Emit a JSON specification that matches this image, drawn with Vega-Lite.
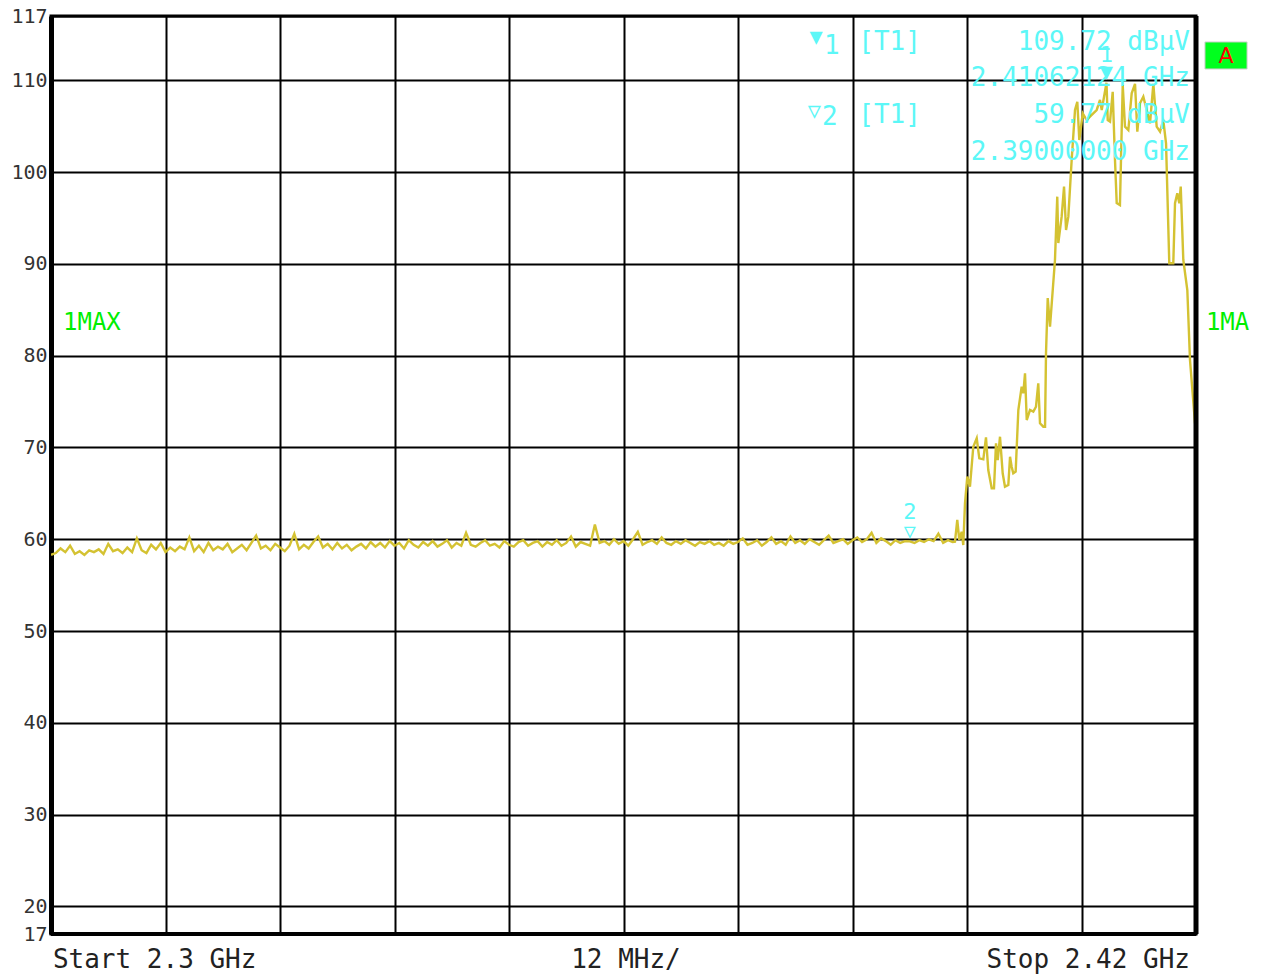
{
  "$schema": "https://vega.github.io/schema/vega-lite/v6.json",
  "width": 1145,
  "height": 918,
  "autosize": "none",
  "padding": {"left": 51, "top": 16, "right": 66, "bottom": 42},
  "background": "white",
  "data": {"values": [{}]},
  "config": {
    "view": {"stroke": "black", "strokeWidth": 3},
    "text": {"font": "DejaVu Sans Mono"}
  },
  "datasets": {
    "trace": [
      {"f":2300.0,"v":58.3},{"f":2300.5,"v":58.5},{"f":2301.0,"v":59.0},{"f":2301.5,"v":58.6},{"f":2302.0,"v":59.3},{"f":2302.5,"v":58.4},{"f":2303.0,"v":58.7},{"f":2303.5,"v":58.3},{"f":2304.0,"v":58.8},{"f":2304.5,"v":58.6},
      {"f":2305.0,"v":58.9},{"f":2305.5,"v":58.4},{"f":2306.0,"v":59.5},{"f":2306.5,"v":58.7},{"f":2307.0,"v":58.9},{"f":2307.5,"v":58.5},{"f":2308.0,"v":59.1},{"f":2308.5,"v":58.6},{"f":2309.0,"v":60.1},{"f":2309.5,"v":58.8},
      {"f":2310.0,"v":58.5},{"f":2310.5,"v":59.4},{"f":2311.0,"v":58.9},{"f":2311.5,"v":59.6},{"f":2312.0,"v":58.6},{"f":2312.5,"v":59.1},{"f":2313.0,"v":58.7},{"f":2313.5,"v":59.2},{"f":2314.0,"v":58.9},{"f":2314.5,"v":60.2},
      {"f":2315.0,"v":58.7},{"f":2315.5,"v":59.3},{"f":2316.0,"v":58.6},{"f":2316.5,"v":59.6},{"f":2317.0,"v":58.8},{"f":2317.5,"v":59.2},{"f":2318.0,"v":58.9},{"f":2318.5,"v":59.5},{"f":2319.0,"v":58.6},{"f":2319.5,"v":59.0},
      {"f":2320.0,"v":59.4},{"f":2320.5,"v":58.8},{"f":2321.0,"v":59.6},{"f":2321.5,"v":60.4},{"f":2322.0,"v":59.0},{"f":2322.5,"v":59.3},{"f":2323.0,"v":58.8},{"f":2323.5,"v":59.5},{"f":2324.0,"v":59.1},{"f":2324.5,"v":58.7},
      {"f":2325.0,"v":59.3},{"f":2325.5,"v":60.6},{"f":2326.0,"v":58.9},{"f":2326.5,"v":59.4},{"f":2327.0,"v":59.0},{"f":2327.5,"v":59.7},{"f":2328.0,"v":60.3},{"f":2328.5,"v":59.1},{"f":2329.0,"v":59.5},{"f":2329.5,"v":58.9},
      {"f":2330.0,"v":59.6},{"f":2330.5,"v":59.0},{"f":2331.0,"v":59.4},{"f":2331.5,"v":58.8},{"f":2332.0,"v":59.2},{"f":2332.5,"v":59.5},{"f":2333.0,"v":59.0},{"f":2333.5,"v":59.7},{"f":2334.0,"v":59.2},{"f":2334.5,"v":59.6},
      {"f":2335.0,"v":59.1},{"f":2335.5,"v":59.8},{"f":2336.0,"v":59.3},{"f":2336.5,"v":59.6},{"f":2337.0,"v":59.0},{"f":2337.5,"v":59.9},{"f":2338.0,"v":59.4},{"f":2338.5,"v":59.1},{"f":2339.0,"v":59.7},{"f":2339.5,"v":59.3},
      {"f":2340.0,"v":59.8},{"f":2340.5,"v":59.2},{"f":2341.0,"v":59.5},{"f":2341.5,"v":59.9},{"f":2342.0,"v":59.1},{"f":2342.5,"v":59.6},{"f":2343.0,"v":59.3},{"f":2343.5,"v":60.7},{"f":2344.0,"v":59.4},{"f":2344.5,"v":59.2},
      {"f":2345.0,"v":59.6},{"f":2345.5,"v":59.9},{"f":2346.0,"v":59.3},{"f":2346.5,"v":59.5},{"f":2347.0,"v":59.1},{"f":2347.5,"v":59.8},{"f":2348.0,"v":59.4},{"f":2348.5,"v":59.2},{"f":2349.0,"v":59.7},{"f":2349.5,"v":59.9},
      {"f":2350.0,"v":59.3},{"f":2350.5,"v":59.6},{"f":2351.0,"v":59.8},{"f":2351.5,"v":59.2},{"f":2352.0,"v":59.7},{"f":2352.5,"v":59.4},{"f":2353.0,"v":59.9},{"f":2353.5,"v":59.3},{"f":2354.0,"v":59.6},{"f":2354.5,"v":60.3},
      {"f":2355.0,"v":59.2},{"f":2355.5,"v":59.7},{"f":2356.0,"v":59.5},{"f":2356.5,"v":59.3},{"f":2357.0,"v":61.6},{"f":2357.5,"v":59.6},{"f":2358.0,"v":59.8},{"f":2358.5,"v":59.4},{"f":2359.0,"v":60.0},{"f":2359.5,"v":59.5},
      {"f":2360.0,"v":59.8},{"f":2360.5,"v":59.3},{"f":2361.0,"v":60.0},{"f":2361.5,"v":60.8},{"f":2362.0,"v":59.4},{"f":2362.5,"v":59.7},{"f":2363.0,"v":59.9},{"f":2363.5,"v":59.5},{"f":2364.0,"v":60.2},{"f":2364.5,"v":59.6},
      {"f":2365.0,"v":59.4},{"f":2365.5,"v":59.8},{"f":2366.0,"v":59.5},{"f":2366.5,"v":59.9},{"f":2367.0,"v":59.6},{"f":2367.5,"v":59.3},{"f":2368.0,"v":59.7},{"f":2368.5,"v":59.5},{"f":2369.0,"v":59.8},{"f":2369.5,"v":59.4},
      {"f":2370.0,"v":59.6},{"f":2370.5,"v":59.3},{"f":2371.0,"v":59.8},{"f":2371.5,"v":59.5},{"f":2372.0,"v":59.7},{"f":2372.5,"v":60.1},{"f":2373.0,"v":59.4},{"f":2373.5,"v":59.6},{"f":2374.0,"v":59.9},{"f":2374.5,"v":59.3},
      {"f":2375.0,"v":59.7},{"f":2375.5,"v":60.2},{"f":2376.0,"v":59.5},{"f":2376.5,"v":59.8},{"f":2377.0,"v":59.4},{"f":2377.5,"v":60.3},{"f":2378.0,"v":59.6},{"f":2378.5,"v":59.9},{"f":2379.0,"v":59.5},{"f":2379.5,"v":60.0},
      {"f":2380.0,"v":59.7},{"f":2380.5,"v":59.4},{"f":2381.0,"v":59.9},{"f":2381.5,"v":60.4},{"f":2382.0,"v":59.6},{"f":2382.5,"v":59.8},{"f":2383.0,"v":60.0},{"f":2383.5,"v":59.5},{"f":2384.0,"v":59.9},{"f":2384.5,"v":60.2},
      {"f":2385.0,"v":59.7},{"f":2385.5,"v":60.0},{"f":2386.0,"v":60.7},{"f":2386.5,"v":59.6},{"f":2387.0,"v":60.1},{"f":2387.5,"v":59.8},{"f":2388.0,"v":59.4},{"f":2388.5,"v":59.9},{"f":2389.0,"v":59.6},{"f":2389.5,"v":59.8},
      {"f":2390.0,"v":59.77},{"f":2390.5,"v":59.6},{"f":2391.0,"v":59.9},{"f":2391.5,"v":59.7},{"f":2392.0,"v":60.0},{"f":2392.5,"v":59.8},{"f":2393.0,"v":60.6},{"f":2393.5,"v":59.6},{"f":2394.0,"v":59.9},{"f":2394.5,"v":59.7},
      {"f":2394.74,"v":59.73},{"f":2394.98,"v":62.1},{"f":2395.19,"v":59.92},{"f":2395.44,"v":60.82},{"f":2395.61,"v":59.37},{"f":2395.79,"v":63.92},{"f":2396.03,"v":66.82},{"f":2396.31,"v":65.73},{"f":2396.66,"v":70.08},{"f":2397.02,"v":71.0},
      {"f":2397.29,"v":68.82},{"f":2397.71,"v":68.71},{"f":2397.99,"v":71.11},{"f":2398.23,"v":67.54},{"f":2398.59,"v":65.55},{"f":2398.83,"v":65.55},{"f":2399.04,"v":70.45},{"f":2399.22,"v":68.63},{"f":2399.46,"v":71.17},{"f":2399.74,"v":67.19},
      {"f":2399.98,"v":65.73},{"f":2400.33,"v":65.91},{"f":2400.51,"v":68.99},{"f":2400.68,"v":67.9},{"f":2400.85,"v":67.19},{"f":2401.10,"v":67.36},{"f":2401.38,"v":74.08},{"f":2401.73,"v":76.62},{"f":2401.90,"v":75.9},{"f":2402.08,"v":78.08},
      {"f":2402.26,"v":72.99},{"f":2402.60,"v":74.08},{"f":2402.95,"v":73.9},{"f":2403.23,"v":74.44},{"f":2403.47,"v":76.99},{"f":2403.65,"v":72.63},{"f":2404.00,"v":72.26},{"f":2404.18,"v":72.26},{"f":2404.28,"v":80.29},{"f":2404.46,"v":86.28},
      {"f":2404.70,"v":83.15},{"f":2405.22,"v":90.42},{"f":2405.46,"v":97.32},{"f":2405.57,"v":92.27},{"f":2405.92,"v":95.14},{"f":2406.17,"v":98.41},{"f":2406.38,"v":93.69},{"f":2406.62,"v":95.14},{"f":2406.97,"v":101.31},{"f":2407.32,"v":106.76},
      {"f":2407.56,"v":107.66},{"f":2407.77,"v":103.49},{"f":2408.13,"v":106.4},{"f":2408.54,"v":105.67},{"f":2409.07,"v":106.22},{"f":2409.59,"v":106.76},{"f":2409.94,"v":107.85},{"f":2410.12,"v":106.76},{"f":2410.62,"v":109.72},{"f":2410.75,"v":105.67},
      {"f":2410.99,"v":105.49},{"f":2411.27,"v":108.75},{"f":2411.51,"v":101.31},{"f":2411.69,"v":96.63},{"f":2412.03,"v":96.41},{"f":2412.32,"v":109.48},{"f":2412.56,"v":104.94},{"f":2412.91,"v":104.58},{"f":2413.26,"v":108.58},{"f":2413.61,"v":109.6},
      {"f":2413.85,"v":104.4},{"f":2414.13,"v":107.49},{"f":2414.48,"v":108.21},{"f":2414.83,"v":106.76},{"f":2415.18,"v":105.31},{"f":2415.53,"v":109.6},{"f":2415.88,"v":104.94},{"f":2416.23,"v":104.4},{"f":2416.57,"v":105.67},{"f":2416.86,"v":103.13},
      {"f":2417.20,"v":90.06},{"f":2417.62,"v":90.06},{"f":2417.80,"v":96.6},{"f":2418.04,"v":97.69},{"f":2418.25,"v":96.6},{"f":2418.40,"v":98.41},{"f":2418.67,"v":90.42},{"f":2419.09,"v":87.15},{"f":2419.37,"v":79.53},{"f":2419.90,"v":72.63}
    ]
  },
  "layer": [
    {
      "data": {"name": "trace"},
      "mark": {"type": "line", "color": "#d4c232", "strokeWidth": 2.4, "clip": true},
      "encoding": {
        "x": {
          "field": "f", "type": "quantitative",
          "scale": {"domain": [2300, 2420], "nice": false, "zero": false},
          "axis": {
            "values": [2300, 2312, 2324, 2336, 2348, 2360, 2372, 2384, 2396, 2408, 2420],
            "labels": false, "ticks": false, "domain": false, "title": null,
            "grid": true, "gridColor": "black", "gridWidth": 2, "gridOpacity": 1
          }
        },
        "y": {
          "field": "v", "type": "quantitative",
          "scale": {"domain": [17, 117], "nice": false, "zero": false},
          "axis": {
            "values": [17, 20, 30, 40, 50, 60, 70, 80, 90, 100, 110, 117],
            "title": null, "ticks": false,
            "domain": true, "domainColor": "black", "domainWidth": 5,
            "grid": true, "gridColor": "black", "gridWidth": 2, "gridOpacity": 1,
            "labelFont": "DejaVu Sans Mono", "labelFontSize": 20, "labelColor": "#333333",
            "labelPadding": 4
          }
        }
      }
    },
    {
      "mark": {"type": "rule", "color": "black", "strokeWidth": 5},
      "encoding": {"x": {"datum": 2420, "type": "quantitative"}}
    },
    {
      "mark": {"type": "rule", "color": "black", "strokeWidth": 4},
      "encoding": {"y": {"datum": 17, "type": "quantitative"}}
    },
    {
      "mark": {"type": "text", "color": "#5cf7f7", "fontSize": 22, "align": "center", "baseline": "middle"},
      "encoding": {"x": {"datum": 2380.2, "type": "quantitative"}, "y": {"datum": 114.7, "type": "quantitative"}, "text": {"value": "▼"}}
    },
    {
      "mark": {"type": "text", "color": "#5cf7f7", "fontSize": 26, "align": "left", "baseline": "middle"},
      "encoding": {"x": {"datum": 2381.0, "type": "quantitative"}, "y": {"datum": 113.7, "type": "quantitative"}, "text": {"value": "1"}}
    },
    {
      "mark": {"type": "text", "color": "#5cf7f7", "fontSize": 22, "align": "center", "baseline": "middle"},
      "encoding": {"x": {"datum": 2380.0, "type": "quantitative"}, "y": {"datum": 106.7, "type": "quantitative"}, "text": {"value": "▽"}}
    },
    {
      "mark": {"type": "text", "color": "#5cf7f7", "fontSize": 26, "align": "left", "baseline": "middle"},
      "encoding": {"x": {"datum": 2380.8, "type": "quantitative"}, "y": {"datum": 106.0, "type": "quantitative"}, "text": {"value": "2"}}
    },
    {
      "mark": {"type": "text", "color": "#5cf7f7", "fontSize": 26, "align": "left", "baseline": "middle"},
      "encoding": {"x": {"datum": 2384.6, "type": "quantitative"}, "y": {"datum": 114.17, "type": "quantitative"}, "text": {"value": "[T1]"}}
    },
    {
      "mark": {"type": "text", "color": "#5cf7f7", "fontSize": 26, "align": "left", "baseline": "middle"},
      "encoding": {"x": {"datum": 2384.6, "type": "quantitative"}, "y": {"datum": 106.22, "type": "quantitative"}, "text": {"value": "[T1]"}}
    },
    {
      "mark": {"type": "text", "color": "#5cf7f7", "fontSize": 26, "align": "right", "baseline": "middle"},
      "encoding": {"x": {"datum": 2419.37, "type": "quantitative"}, "y": {"datum": 114.17, "type": "quantitative"}, "text": {"value": "109.72 dBµV"}}
    },
    {
      "mark": {"type": "text", "color": "#5cf7f7", "fontSize": 26, "align": "right", "baseline": "middle"},
      "encoding": {"x": {"datum": 2419.37, "type": "quantitative"}, "y": {"datum": 110.25, "type": "quantitative"}, "text": {"value": "2.41062124 GHz"}}
    },
    {
      "mark": {"type": "text", "color": "#5cf7f7", "fontSize": 26, "align": "right", "baseline": "middle"},
      "encoding": {"x": {"datum": 2419.37, "type": "quantitative"}, "y": {"datum": 106.22, "type": "quantitative"}, "text": {"value": "59.77 dBµV"}}
    },
    {
      "mark": {"type": "text", "color": "#5cf7f7", "fontSize": 26, "align": "right", "baseline": "middle"},
      "encoding": {"x": {"datum": 2419.37, "type": "quantitative"}, "y": {"datum": 102.19, "type": "quantitative"}, "text": {"value": "2.39000000 GHz"}}
    },
    {
      "mark": {"type": "text", "color": "#5cf7f7", "fontSize": 22, "align": "center", "baseline": "middle"},
      "encoding": {"x": {"datum": 2410.62, "type": "quantitative"}, "y": {"datum": 112.75, "type": "quantitative"}, "text": {"value": "1"}}
    },
    {
      "mark": {"type": "text", "color": "#5cf7f7", "fontSize": 22, "align": "center", "baseline": "middle"},
      "encoding": {"x": {"datum": 2410.62, "type": "quantitative"}, "y": {"datum": 110.9, "type": "quantitative"}, "text": {"value": "▼"}}
    },
    {
      "mark": {"type": "text", "color": "#5cf7f7", "fontSize": 22, "align": "center", "baseline": "middle"},
      "encoding": {"x": {"datum": 2390.0, "type": "quantitative"}, "y": {"datum": 62.97, "type": "quantitative"}, "text": {"value": "2"}}
    },
    {
      "mark": {"type": "text", "color": "#5cf7f7", "fontSize": 20, "align": "center", "baseline": "middle"},
      "encoding": {"x": {"datum": 2390.0, "type": "quantitative"}, "y": {"datum": 60.8, "type": "quantitative"}, "text": {"value": "▽"}}
    },
    {
      "mark": {"type": "text", "color": "#00ee00", "fontSize": 24, "align": "left", "baseline": "middle"},
      "encoding": {"x": {"datum": 2301.26, "type": "quantitative"}, "y": {"datum": 83.56, "type": "quantitative"}, "text": {"value": "1MAX"}}
    },
    {
      "mark": {"type": "text", "color": "#00ee00", "fontSize": 24, "align": "left", "baseline": "middle"},
      "encoding": {"x": {"datum": 2421.04, "type": "quantitative"}, "y": {"datum": 83.56, "type": "quantitative"}, "text": {"value": "1MA"}}
    },
    {
      "mark": {"type": "rect", "color": "#00ff1e", "stroke": "#cccccc", "strokeWidth": 1},
      "encoding": {
        "x": {"datum": 2420.94, "type": "quantitative"}, "x2": {"datum": 2425.35},
        "y": {"datum": 111.23, "type": "quantitative"}, "y2": {"datum": 114.17}
      }
    },
    {
      "mark": {"type": "text", "color": "#ff0000", "fontSize": 22, "font": "DejaVu Sans", "align": "center", "baseline": "middle"},
      "encoding": {"x": {"datum": 2423.15, "type": "quantitative"}, "y": {"datum": 112.64, "type": "quantitative"}, "text": {"value": "A"}}
    },
    {
      "mark": {"type": "text", "color": "#222222", "fontSize": 26, "align": "left", "baseline": "middle"},
      "encoding": {"x": {"datum": 2300.2, "type": "quantitative"}, "y": {"datum": 14.17, "type": "quantitative"}, "text": {"value": "Start 2.3 GHz"}}
    },
    {
      "mark": {"type": "text", "color": "#222222", "fontSize": 26, "align": "center", "baseline": "middle"},
      "encoding": {"x": {"datum": 2360.26, "type": "quantitative"}, "y": {"datum": 14.17, "type": "quantitative"}, "text": {"value": "12 MHz/"}}
    },
    {
      "mark": {"type": "text", "color": "#222222", "fontSize": 26, "align": "right", "baseline": "middle"},
      "encoding": {"x": {"datum": 2419.37, "type": "quantitative"}, "y": {"datum": 14.17, "type": "quantitative"}, "text": {"value": "Stop 2.42 GHz"}}
    }
  ]
}
